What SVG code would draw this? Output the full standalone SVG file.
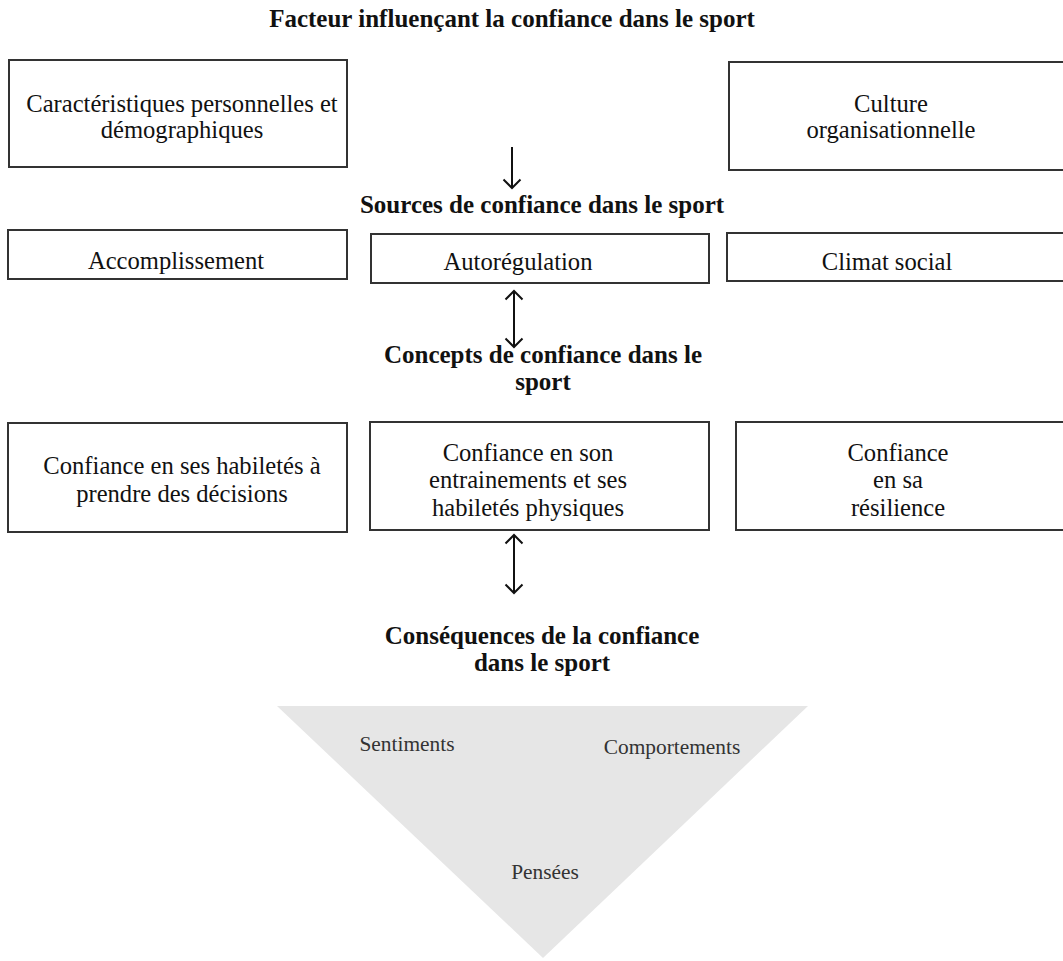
<svg xmlns="http://www.w3.org/2000/svg" width="1063" height="961" viewBox="0 0 1063 961">
<style>
.box{fill:#fff;stroke:#333;stroke-width:2}
.t{font-family:"Liberation Serif","DejaVu Serif",serif;font-size:24.6px;fill:#111;text-anchor:middle}
.h{font-family:"Liberation Serif","DejaVu Serif",serif;font-size:25px;font-weight:bold;fill:#111;text-anchor:middle}
.g{font-family:"Liberation Serif","DejaVu Serif",serif;font-size:21.4px;fill:#333;text-anchor:middle}
.arr{stroke:#111;stroke-width:2;fill:none}
</style>
<defs>
<marker id="chev" viewBox="0 0 20 20" refX="10" refY="10" markerWidth="20" markerHeight="20" markerUnits="userSpaceOnUse" orient="auto-start-reverse">
<path d="M1.5,1.5 L10,10 L1.5,18.5" fill="none" stroke="#111" stroke-width="2"/>
</marker>
</defs>
<rect width="1063" height="961" fill="#fff"/>
<g id="titles">
<text class="h" x="512" y="27">Facteur influençant la confiance dans le sport</text>
<text class="h" x="542" y="213">Sources de confiance dans le sport</text>
<text class="h" x="543" y="363">Concepts de confiance dans le</text>
<text class="h" x="543" y="390">sport</text>
<text class="h" x="542" y="644">Conséquences de la confiance</text>
<text class="h" x="542" y="671">dans le sport</text>
</g>
<g id="n-caracteristiques">
<rect class="box" x="9" y="60" width="338" height="107"/>
<text class="t" x="182" y="112">Caractéristiques personnelles et</text>
<text class="t" x="182" y="138">démographiques</text>
</g>
<g id="n-culture">
<rect class="box" x="729" y="62" width="336" height="108"/>
<text class="t" x="891" y="112">Culture</text>
<text class="t" x="891" y="138">organisationnelle</text>
</g>
<g id="n-accomplissement">
<rect class="box" x="8" y="230" width="339" height="49"/>
<text class="t" x="176" y="269">Accomplissement</text>
</g>
<g id="n-autoregulation">
<rect class="box" x="371" y="234" width="338" height="49"/>
<text class="t" x="518" y="270">Autorégulation</text>
</g>
<g id="n-climat">
<rect class="box" x="727" y="233" width="338" height="48"/>
<text class="t" x="887" y="270">Climat social</text>
</g>
<g id="n-decisions">
<rect class="box" x="8" y="423" width="339" height="109"/>
<text class="t" x="182" y="474">Confiance en ses habiletés à</text>
<text class="t" x="182" y="502">prendre des décisions</text>
</g>
<g id="n-entrainement">
<rect class="box" x="370" y="422" width="339" height="108"/>
<text class="t" x="528" y="461">Confiance en son</text>
<text class="t" x="528" y="488">entrainements et ses</text>
<text class="t" x="528" y="516">habiletés physiques</text>
</g>
<g id="n-resilience">
<rect class="box" x="736" y="422" width="329" height="108"/>
<text class="t" x="898" y="461">Confiance</text>
<text class="t" x="898" y="488">en sa</text>
<text class="t" x="898" y="516">résilience</text>
</g>
<g id="n-consequences">
<polygon points="277,706 808,706 543,958" fill="#e6e6e6"/>
<text class="g" x="407" y="751">Sentiments</text>
<text class="g" x="672" y="754">Comportements</text>
<text class="g" x="545" y="879">Pensées</text>
</g>
<g id="connectors">
<line class="arr" x1="512" y1="147" x2="512" y2="188" marker-end="url(#chev)"/>
<line class="arr" x1="514" y1="291" x2="514" y2="347" marker-start="url(#chev)" marker-end="url(#chev)"/>
<line class="arr" x1="514" y1="535" x2="514" y2="593" marker-start="url(#chev)" marker-end="url(#chev)"/>
</g>
</svg>
